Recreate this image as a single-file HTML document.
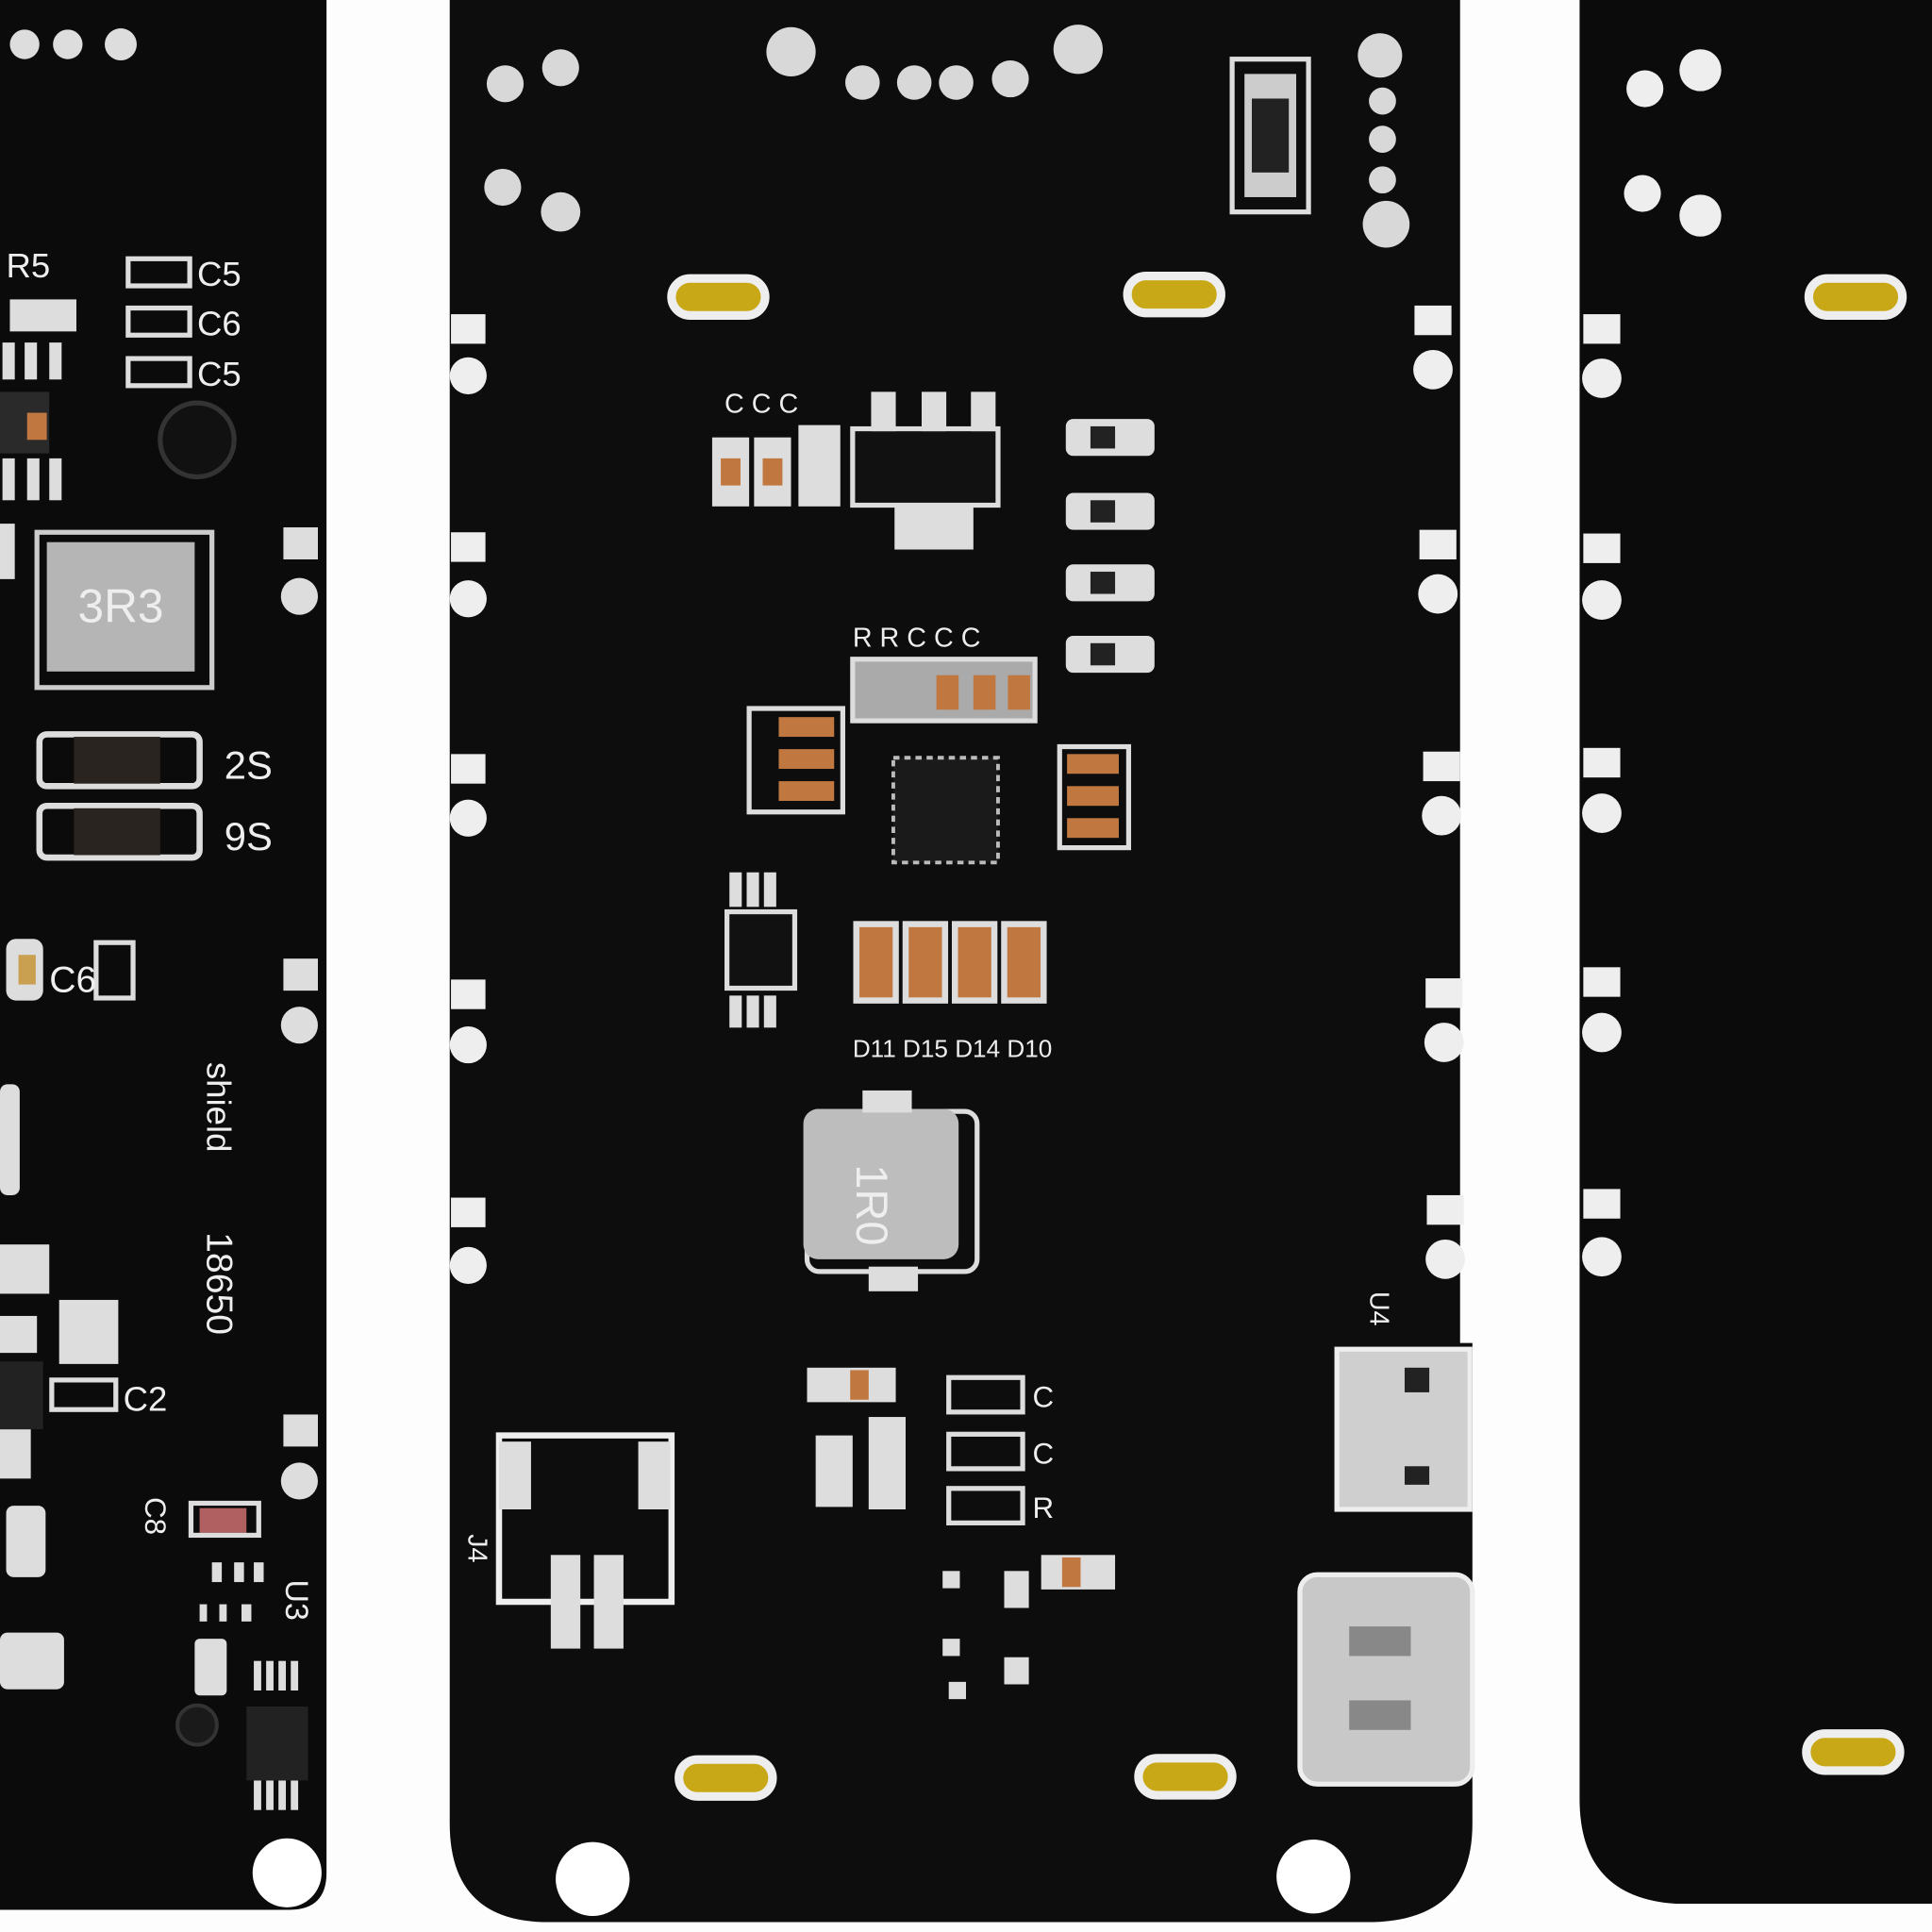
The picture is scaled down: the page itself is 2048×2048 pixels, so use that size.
<!DOCTYPE html>
<html><head><meta charset="utf-8"><style>
html,body{margin:0;padding:0;background:#fff;}
svg{display:block;}
text{font-family:"Liberation Sans",sans-serif;fill:#eee;}
</style></head><body>
<svg width="2048" height="2048" viewBox="0 0 1568 1568" xmlns="http://www.w3.org/2000/svg">
<rect width="1568" height="1568" fill="#fdfdfd"/>
<path d="M0 0 H265 V1520 Q265 1550 235 1550 H0 Z" fill="#0b0b0b"/>
<path d="M365 0 H1185 V1090 H1195 V1480 Q1195 1560 1110 1560 H445 Q365 1560 365 1480 Z" fill="#0d0d0d"/>
<path d="M1282 0 H1568 V1545 H1360 Q1282 1540 1282 1460 Z" fill="#0b0b0b"/>
<g fill="#ddd">
<circle cx="20" cy="36" r="12"/><circle cx="55" cy="36" r="12"/><circle cx="98" cy="36" r="13"/>
<rect x="230" y="428" width="28" height="26"/><circle cx="243" cy="484" r="15"/>
<rect x="230" y="778" width="28" height="26"/><circle cx="243" cy="832" r="15"/>
<rect x="230" y="1148" width="28" height="26"/><circle cx="243" cy="1202" r="15"/>
<circle cx="233" cy="1520" r="28" fill="#fff"/>
<!-- left edge parts -->
<rect x="8" y="243" width="54" height="26"/><rect x="2" y="278" width="10" height="30"/><rect x="20" y="278" width="10" height="30"/><rect x="40" y="278" width="10" height="30"/>
<rect x="2" y="372" width="10" height="34"/><rect x="22" y="372" width="10" height="34"/><rect x="40" y="372" width="10" height="34"/>
<rect x="0" y="425" width="12" height="45"/>
<rect x="5" y="762" width="30" height="50" rx="8"/><rect x="0" y="880" width="16" height="90" rx="6"/>
<rect x="0" y="1010" width="40" height="40"/><rect x="0" y="1068" width="30" height="30"/><rect x="0" y="1160" width="25" height="40"/>
<rect x="5" y="1222" width="32" height="58" rx="6"/><rect x="0" y="1325" width="52" height="46" rx="6"/>
<rect x="48" y="1055" width="48" height="52"/>
<rect x="172" y="1268" width="8" height="16"/><rect x="190" y="1268" width="8" height="16"/><rect x="206" y="1268" width="8" height="16"/>
<rect x="162" y="1302" width="6" height="14"/><rect x="178" y="1302" width="6" height="14"/><rect x="196" y="1302" width="8" height="14"/>
<rect x="206" y="1348" width="6" height="24"/><rect x="216" y="1348" width="6" height="24"/><rect x="226" y="1348" width="6" height="24"/><rect x="236" y="1348" width="6" height="24"/>
<rect x="206" y="1445" width="6" height="24"/><rect x="216" y="1445" width="6" height="24"/><rect x="226" y="1445" width="6" height="24"/><rect x="236" y="1445" width="6" height="24"/>
<rect x="158" y="1330" width="26" height="46" rx="4"/>
</g>
<rect x="0" y="318" width="40" height="50" fill="#2a2a2a"/><rect x="22" y="335" width="16" height="22" fill="#c07840"/>
<rect x="0" y="1105" width="35" height="55" fill="#222"/>
<rect x="15" y="775" width="14" height="24" fill="#c8a050"/>
<rect x="162" y="1224" width="38" height="20" fill="#b06060"/>
<circle cx="160" cy="1400" r="16" fill="#1a1a1a" stroke="#333" stroke-width="3"/>
<circle cx="160" cy="357" r="30" fill="#111" stroke="#333" stroke-width="4"/>
<rect x="30" y="432" width="142" height="126" fill="none" stroke="#ccc" stroke-width="4"/>
<rect x="38" y="440" width="120" height="105" fill="#b5b5b5"/>
<text x="98" y="505" font-size="38" text-anchor="middle" fill="#333">3R3</text>
<rect x="32" y="596" width="130" height="42" rx="6" fill="none" stroke="#ddd" stroke-width="5"/>
<rect x="60" y="598" width="70" height="38" fill="#2a2420"/>
<rect x="32" y="654" width="130" height="42" rx="6" fill="none" stroke="#ddd" stroke-width="5"/>
<rect x="60" y="656" width="70" height="38" fill="#2a2420"/>
<text x="182" y="632" font-size="32">2S</text><text x="182" y="690" font-size="32">9S</text>
<text x="5" y="225" font-size="28">R5</text>
<g fill="none" stroke="#ddd" stroke-width="4"><rect x="104" y="210" width="50" height="22"/><rect x="104" y="250" width="50" height="22"/><rect x="104" y="291" width="50" height="22"/><rect x="78" y="765" width="30" height="45"/><rect x="155" y="1220" width="55" height="26"/><rect x="42" y="1120" width="52" height="24"/></g>
<text x="160" y="232" font-size="28">C5</text><text x="160" y="272" font-size="28">C6</text><text x="160" y="313" font-size="28">C5</text>
<text x="40" y="805" font-size="30">C6</text>
<text transform="translate(168 1000) rotate(90)" font-size="30">18650</text>
<text transform="translate(168 862) rotate(90)" font-size="28">shield</text>
<text x="100" y="1145" font-size="28">C2</text>
<text transform="translate(232 1282) rotate(90)" font-size="26">U3</text>
<text transform="translate(118 1215) rotate(90)" font-size="24">C8</text>
<rect x="200" y="1385" width="50" height="60" fill="#222"/>
<g fill="#d8d8d8">
<circle cx="642" cy="42" r="20"/><circle cx="875" cy="40" r="20"/>
<circle cx="700" cy="67" r="14"/><circle cx="742" cy="67" r="14"/><circle cx="776" cy="67" r="14"/><circle cx="820" cy="64" r="15"/>
<circle cx="410" cy="68" r="15"/><circle cx="455" cy="55" r="15"/><circle cx="408" cy="152" r="15"/><circle cx="455" cy="172" r="16"/>
<circle cx="1120" cy="45" r="18"/><circle cx="1122" cy="82" r="11"/><circle cx="1122" cy="113" r="11"/><circle cx="1122" cy="146" r="11"/><circle cx="1125" cy="182" r="19"/>
</g>
<g fill="#eee">
<rect x="366" y="255" width="28" height="24"/><circle cx="380" cy="305" r="15"/>
<rect x="366" y="432" width="28" height="24"/><circle cx="380" cy="486" r="15"/>
<rect x="366" y="612" width="28" height="24"/><circle cx="380" cy="664" r="15"/>
<rect x="366" y="795" width="28" height="24"/><circle cx="380" cy="848" r="15"/>
<rect x="366" y="972" width="28" height="24"/><circle cx="380" cy="1027" r="15"/>
<rect x="1148" y="248" width="30" height="24"/><circle cx="1163" cy="300" r="16"/>
<rect x="1152" y="430" width="30" height="24"/><circle cx="1167" cy="482" r="16"/>
<rect x="1155" y="610" width="30" height="24"/><circle cx="1170" cy="662" r="16"/>
<rect x="1157" y="794" width="30" height="24"/><circle cx="1172" cy="846" r="16"/>
<rect x="1158" y="970" width="30" height="24"/><circle cx="1173" cy="1022" r="16"/>
<rect x="1285" y="255" width="30" height="24"/><circle cx="1300" cy="307" r="16"/>
<rect x="1285" y="433" width="30" height="24"/><circle cx="1300" cy="487" r="16"/>
<rect x="1285" y="607" width="30" height="24"/><circle cx="1300" cy="660" r="16"/>
<rect x="1285" y="785" width="30" height="24"/><circle cx="1300" cy="838" r="16"/>
<rect x="1285" y="965" width="30" height="24"/><circle cx="1300" cy="1020" r="16"/>
<circle cx="1335" cy="72" r="15"/><circle cx="1380" cy="57" r="17"/><circle cx="1333" cy="157" r="15"/><circle cx="1380" cy="175" r="17"/>
</g>
<circle cx="481" cy="1525" r="30" fill="#fff"/><circle cx="1066" cy="1523" r="30" fill="#fff"/>
<g stroke="#eee" stroke-width="7" fill="#c9a818">
<rect x="545" y="226" width="76" height="30" rx="15"/><rect x="915" y="224" width="76" height="30" rx="15"/>
<rect x="551" y="1428" width="76" height="30" rx="15"/><rect x="924" y="1427" width="76" height="30" rx="15"/>
<rect x="1468" y="226" width="76" height="30" rx="15"/><rect x="1466" y="1407" width="76" height="30" rx="15"/>
</g>
<rect x="1000" y="48" width="62" height="124" fill="none" stroke="#ddd" stroke-width="4"/>
<rect x="1010" y="60" width="42" height="100" fill="#ccc"/><rect x="1016" y="80" width="30" height="60" fill="#222"/>
<rect x="692" y="348" width="118" height="62" fill="#111" stroke="#ddd" stroke-width="4"/>
<g fill="#ddd"><rect x="707" y="318" width="20" height="32"/><rect x="748" y="318" width="20" height="32"/><rect x="788" y="318" width="20" height="32"/><rect x="726" y="410" width="64" height="36"/>
<rect x="578" y="355" width="30" height="56"/><rect x="612" y="355" width="30" height="56"/><rect x="648" y="345" width="34" height="66"/></g>
<rect x="585" y="372" width="16" height="22" fill="#c07840"/><rect x="619" y="372" width="16" height="22" fill="#c07840"/>
<text x="588" y="335" font-size="22">C C C</text>
<g fill="#ddd"><rect x="865" y="340" width="72" height="30" rx="6"/><rect x="865" y="400" width="72" height="30" rx="6"/><rect x="865" y="458" width="72" height="30" rx="6"/><rect x="865" y="516" width="72" height="30" rx="6"/></g>
<g fill="#222"><rect x="885" y="346" width="20" height="18"/><rect x="885" y="406" width="20" height="18"/><rect x="885" y="464" width="20" height="18"/><rect x="885" y="522" width="20" height="18"/></g>
<rect x="692" y="535" width="148" height="50" fill="#aaa" stroke="#ddd" stroke-width="4"/>
<g fill="#c07840"><rect x="760" y="548" width="18" height="28"/><rect x="790" y="548" width="18" height="28"/><rect x="818" y="548" width="18" height="28"/></g>
<text x="692" y="525" font-size="22">R R C C C</text>
<rect x="608" y="575" width="76" height="84" fill="none" stroke="#ddd" stroke-width="4"/>
<g fill="#c07840"><rect x="632" y="582" width="45" height="16"/><rect x="632" y="608" width="45" height="16"/><rect x="632" y="634" width="45" height="16"/></g>
<rect x="860" y="606" width="56" height="82" fill="none" stroke="#ddd" stroke-width="4"/>
<g fill="#c07840"><rect x="866" y="612" width="42" height="16"/><rect x="866" y="638" width="42" height="16"/><rect x="866" y="664" width="42" height="16"/></g>
<rect x="725" y="615" width="85" height="85" fill="#1a1a1a" stroke="#bbb" stroke-width="3" stroke-dasharray="5 4"/>
<rect x="590" y="740" width="55" height="62" fill="#111" stroke="#ddd" stroke-width="4"/>
<g fill="#ddd"><rect x="592" y="708" width="10" height="28"/><rect x="606" y="708" width="10" height="28"/><rect x="620" y="708" width="10" height="28"/><rect x="592" y="808" width="10" height="26"/><rect x="606" y="808" width="10" height="26"/><rect x="620" y="808" width="10" height="26"/></g>
<g fill="#c07840" stroke="#ddd" stroke-width="5"><rect x="695" y="750" width="32" height="62"/><rect x="735" y="750" width="32" height="62"/><rect x="775" y="750" width="32" height="62"/><rect x="815" y="750" width="32" height="62"/></g>
<text x="692" y="858" font-size="20">D11  D15  D14  D10</text>
<rect x="655" y="902" width="138" height="130" rx="10" fill="none" stroke="#ddd" stroke-width="4"/>
<rect x="652" y="900" width="126" height="122" rx="12" fill="#bdbdbd"/>
<rect x="700" y="885" width="40" height="18" fill="#ddd"/><rect x="705" y="1028" width="40" height="20" fill="#ddd"/>
<text transform="translate(695 945) rotate(90)" font-size="36" fill="#222">1R0</text>
<path d="M405 1165 H545 V1300 H405 Z" fill="none" stroke="#eee" stroke-width="5"/>
<g fill="#ddd"><rect x="405" y="1170" width="26" height="55"/><rect x="518" y="1170" width="26" height="55"/><rect x="447" y="1262" width="24" height="76"/><rect x="482" y="1262" width="24" height="76"/></g>
<text transform="translate(380 1245) rotate(90)" font-size="22">J4</text>
<g fill="none" stroke="#ddd" stroke-width="4"><rect x="770" y="1118" width="60" height="28"/><rect x="770" y="1164" width="60" height="28"/><rect x="770" y="1208" width="60" height="28"/></g>
<rect x="655" y="1110" width="72" height="28" fill="#ddd"/><rect x="690" y="1112" width="15" height="24" fill="#c07840"/>
<rect x="845" y="1262" width="60" height="28" fill="#ddd"/><rect x="862" y="1264" width="15" height="24" fill="#c07840"/>
<rect x="662" y="1165" width="30" height="58" fill="#ddd"/><rect x="705" y="1150" width="30" height="75" fill="#ddd"/>
<text x="838" y="1142" font-size="24">C</text><text x="838" y="1188" font-size="24">C</text><text x="838" y="1232" font-size="24">R</text>
<g fill="#ddd"><rect x="765" y="1275" width="14" height="14"/><rect x="815" y="1275" width="20" height="30"/><rect x="765" y="1330" width="14" height="14"/><rect x="815" y="1345" width="20" height="22"/><rect x="770" y="1365" width="14" height="14"/></g>
<rect x="1085" y="1095" width="108" height="130" fill="#cfcfcf" stroke="#eee" stroke-width="4"/>
<rect x="1140" y="1110" width="20" height="20" fill="#222"/><rect x="1140" y="1190" width="20" height="15" fill="#222"/>
<rect x="1055" y="1278" width="140" height="170" rx="14" fill="#c8c8c8" stroke="#eee" stroke-width="4"/>
<rect x="1095" y="1320" width="50" height="24" fill="#888"/><rect x="1095" y="1380" width="50" height="24" fill="#888"/>
<text transform="translate(1112 1048) rotate(90)" font-size="22">U4</text>
</svg>
</body></html>
